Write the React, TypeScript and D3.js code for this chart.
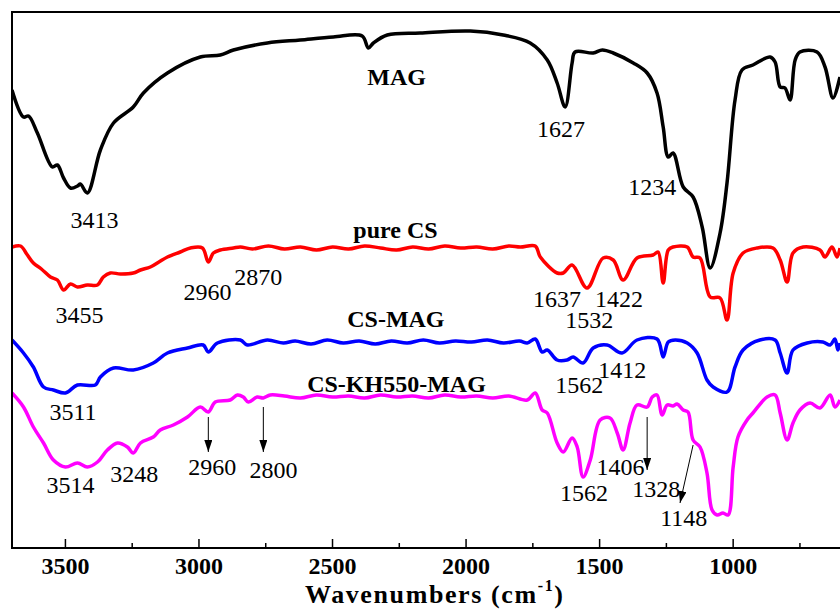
import React, { useEffect, useRef } from "react";
import * as d3 from "d3";

// FTIR spectra, [wavenumber (cm-1), transmittance (a.u., offset per sample)]
const magSpectrum: [number, number][] = [
  [3700, 458], [3657, 431], [3638, 432], [3605, 415], [3549, 381], [3530, 383], [3507, 370],
  [3481, 360], [3455, 362], [3444, 364], [3418, 355], [3369, 398], [3320, 425], [3246, 441],
  [3208, 455], [3118, 475], [2995, 491], [2920, 493], [2871, 498], [2744, 505], [2621, 508],
  [2497, 511], [2389, 512], [2366, 500], [2347, 505], [2295, 513], [2172, 515], [1984, 517],
  [1861, 513], [1760, 505], [1696, 488], [1659, 465], [1629, 441], [1603, 485], [1592, 496],
  [1524, 495], [1490, 498], [1449, 495], [1374, 485], [1322, 475], [1285, 455], [1262, 421],
  [1243, 391], [1225, 395], [1187, 361], [1150, 351], [1116, 321], [1086, 280], [1049, 315],
  [1023, 365], [993, 448], [967, 478], [926, 483], [862, 491], [843, 486], [824, 461],
  [806, 460], [787, 448], [768, 488], [750, 496], [686, 496], [656, 481], [626, 450], [600, 471],
];

const pureCsSpectrum: [number, number][] = [
  [3700, 301], [3668, 302], [3645, 294], [3620, 285], [3590, 279], [3556, 271], [3530, 268],
  [3507, 258], [3481, 264], [3455, 261], [3418, 263], [3380, 263], [3358, 271], [3332, 275],
  [3294, 274], [3246, 275], [3219, 278], [3182, 281], [3150, 286], [3118, 291], [3070, 296],
  [3032, 300], [2987, 300], [2965, 286], [2946, 295], [2920, 298], [2871, 300], [2845, 301],
  [2800, 299], [2740, 302], [2680, 299], [2620, 301], [2560, 298], [2500, 301], [2440, 299],
  [2380, 302], [2320, 300], [2260, 298], [2200, 301], [2140, 299], [2080, 302], [2020, 300],
  [1960, 301], [1900, 299], [1840, 302], [1797, 301], [1741, 302], [1722, 291], [1659, 275],
  [1636, 275], [1603, 283], [1547, 260], [1487, 290], [1449, 288], [1412, 268], [1360, 290],
  [1300, 293], [1281, 296], [1262, 265], [1243, 298], [1225, 301], [1172, 301], [1150, 291],
  [1124, 290], [1086, 251], [1049, 250], [1023, 228], [1000, 275], [963, 295], [911, 300],
  [851, 300], [824, 288], [798, 266], [776, 295], [738, 301], [675, 298], [656, 291],
  [630, 301], [611, 291], [600, 300],
];

const csMagSpectrum: [number, number][] = [
  [3700, 208], [3657, 195], [3620, 181], [3582, 161], [3545, 158], [3500, 155], [3455, 163],
  [3388, 163], [3369, 171], [3320, 180], [3246, 178], [3171, 185], [3118, 195], [3043, 200],
  [2984, 203], [2965, 196], [2931, 205], [2845, 208], [2819, 203], [2744, 208], [2684, 205],
  [2640, 207], [2580, 204], [2520, 208], [2460, 205], [2400, 207], [2340, 204], [2280, 207],
  [2220, 205], [2160, 208], [2100, 205], [2040, 207], [1980, 206], [1920, 208], [1860, 205],
  [1800, 207], [1771, 205], [1741, 209], [1715, 196], [1696, 198], [1659, 188], [1622, 188],
  [1599, 191], [1562, 185], [1524, 200], [1472, 203], [1416, 195], [1360, 208], [1285, 209],
  [1262, 191], [1243, 206], [1217, 208], [1172, 205], [1135, 195], [1098, 168], [1075, 161],
  [1023, 156], [993, 181], [963, 198], [900, 208], [843, 208], [824, 195], [798, 175],
  [776, 198], [723, 205], [664, 206], [637, 203], [619, 209], [608, 198], [600, 205],
];

const csKhMagSpectrum: [number, number][] = [
  [3700, 155], [3657, 141], [3620, 121], [3582, 105], [3545, 88], [3500, 81], [3455, 85],
  [3418, 81], [3380, 86], [3343, 98], [3305, 105], [3268, 101], [3246, 95], [3219, 105],
  [3171, 111], [3145, 118], [3096, 123], [3043, 131], [2995, 141], [2965, 136], [2939, 146],
  [2883, 148], [2856, 153], [2834, 151], [2815, 146], [2782, 151], [2759, 150], [2733, 153],
  [2680, 152], [2620, 150], [2560, 153], [2500, 151], [2440, 152], [2380, 150], [2320, 153],
  [2260, 151], [2200, 152], [2140, 150], [2080, 153], [2020, 151], [1960, 152], [1900, 150],
  [1840, 152], [1771, 148], [1741, 155], [1715, 138], [1696, 135], [1659, 105], [1636, 96],
  [1603, 110], [1584, 101], [1562, 71], [1535, 88], [1498, 128], [1461, 130], [1434, 115],
  [1412, 98], [1386, 125], [1360, 143], [1322, 141], [1303, 151], [1285, 153], [1266, 133],
  [1247, 143], [1225, 142], [1210, 144], [1187, 138], [1169, 136], [1150, 108], [1124, 101],
  [1098, 75], [1079, 38], [1060, 33], [1038, 35], [1019, 33], [1000, 81], [982, 111],
  [948, 128], [926, 135], [873, 151], [843, 153], [824, 135], [798, 108], [776, 125],
  [750, 138], [712, 145], [675, 140], [637, 153], [619, 141], [600, 148],
];

const seriesColors = ["#000000", "#ff0000", "#0000ff", "#ff00ff"];
const xTicks = [3500, 3000, 2500, 2000, 1500, 1000];
const xMinorTicks = [3250, 2750, 2250, 1750, 1250, 750];

// sample names: [text, wavenumber, value]
const sampleLabels: [string, number, number][] = [
  ["MAG", 2370, 463],
  ["pure CS", 2422, 310],
  ["CS-MAG", 2445, 221],
  ["CS-KH550-MAG", 2595, 156],
];

// peak annotations: [text, wavenumber, value]
const peakLabels: [string, number, number][] = [
  ["3413", 3481, 320], ["1627", 1734, 411], ["1234", 1393, 353],
  ["3455", 3537, 225], ["2960", 3058, 248], ["2870", 2868, 263],
  ["1637", 1749, 241], ["1422", 1517, 241], ["1532", 1629, 220],
  ["3511", 3560, 128], ["1562", 1666, 155], ["1412", 1505, 170],
  ["3514", 3571, 55], ["3248", 3332, 66], ["2960", 3040, 73], ["2800", 2811, 70],
  ["1562", 1648, 47], ["1406", 1512, 73], ["1328", 1378, 51], ["1148", 1273, 22],
];

// arrows: [fromWn, fromVal, toWn, toVal]
const peakArrows: [number, number, number, number][] = [
  [2965, 131, 2965, 96],
  [2759, 141, 2759, 96],
  [1322, 131, 1322, 78],
  [1150, 103, 1199, 45],
];

const W = 840;
const H = 610;
const serif = "'Times New Roman', 'Liberation Serif', serif";

export default function App() {
  const ref = useRef<SVGSVGElement>(null);

  useEffect(() => {
    const svg = d3.select(ref.current);
    svg.selectAll("*").remove();

    const x = d3.scaleLinear().domain([3700, 600]).range([12, 840]);
    const y = d3.scaleLinear().domain([0, 536]).range([548, 12]);

    const defs = svg.append("defs");
    defs.append("clipPath").attr("id", "plotClip")
      .append("rect").attr("x", 12).attr("y", 12).attr("width", 840).attr("height", 536);
    defs.append("marker")
      .attr("id", "arrowHead")
      .attr("markerUnits", "userSpaceOnUse")
      .attr("markerWidth", 12).attr("markerHeight", 8)
      .attr("refX", 12).attr("refY", 4)
      .attr("orient", "auto")
      .append("path").attr("d", "M0,0 L12,4 L0,8 Z").attr("fill", "#000");

    const line = d3.line<[number, number]>()
      .x(d => x(d[0]))
      .y(d => y(d[1]))
      .curve(d3.curveCatmullRom.alpha(0.5));

    const spectra = [magSpectrum, pureCsSpectrum, csMagSpectrum, csKhMagSpectrum];
    const g = svg.append("g").attr("clip-path", "url(#plotClip)");
    spectra.forEach((s, i) => {
      g.append("path")
        .datum(s)
        .attr("d", line)
        .attr("fill", "none")
        .attr("stroke", seriesColors[i])
        .attr("stroke-width", 3.5)
        .attr("stroke-linejoin", "round");
    });

    // frame
    svg.append("path")
      .attr("d", `M840,12 H12 V548 H840`)
      .attr("fill", "none").attr("stroke", "#000").attr("stroke-width", 2);

    // ticks
    xTicks.forEach(t => {
      svg.append("line").attr("x1", x(t)).attr("x2", x(t)).attr("y1", 548).attr("y2", 539)
        .attr("stroke", "#000").attr("stroke-width", 1.5);
      svg.append("text").attr("x", x(t)).attr("y", 574)
        .attr("text-anchor", "middle").attr("font-family", serif)
        .attr("font-weight", "bold").attr("font-size", 24).text(String(t));
    });
    xMinorTicks.forEach(t => {
      svg.append("line").attr("x1", x(t)).attr("x2", x(t)).attr("y1", 548).attr("y2", 543)
        .attr("stroke", "#000").attr("stroke-width", 1.5);
    });

    // axis title
    const title = svg.append("text").attr("x", 305).attr("y", 603)
      .attr("font-family", serif).attr("font-weight", "bold").attr("font-size", 26)
      .attr("letter-spacing", 1.6);
    title.append("tspan").text("Wavenumbers (cm");
    title.append("tspan").attr("dy", -12).attr("font-size", 16).text("-1");
    title.append("tspan").attr("dy", 12).text(")");

    sampleLabels.forEach(([t, wn, v]) => {
      svg.append("text").attr("x", x(wn)).attr("y", y(v))
        .attr("font-family", serif).attr("font-weight", "bold").attr("font-size", 24).text(t);
    });

    peakLabels.forEach(([t, wn, v]) => {
      svg.append("text").attr("x", x(wn)).attr("y", y(v))
        .attr("font-family", serif).attr("font-size", 24).text(t);
    });

    peakArrows.forEach(([w1, v1, w2, v2]) => {
      svg.append("line")
        .attr("x1", x(w1)).attr("y1", y(v1)).attr("x2", x(w2)).attr("y2", y(v2))
        .attr("stroke", "#000").attr("stroke-width", 1)
        .attr("marker-end", "url(#arrowHead)");
    });
  }, []);

  return (
    <div style={{ position: "absolute", left: 0, top: 0, background: "#fff" }}>
      <svg ref={ref} width={W} height={H} style={{ display: "block" }}></svg>
    </div>
  );
}
